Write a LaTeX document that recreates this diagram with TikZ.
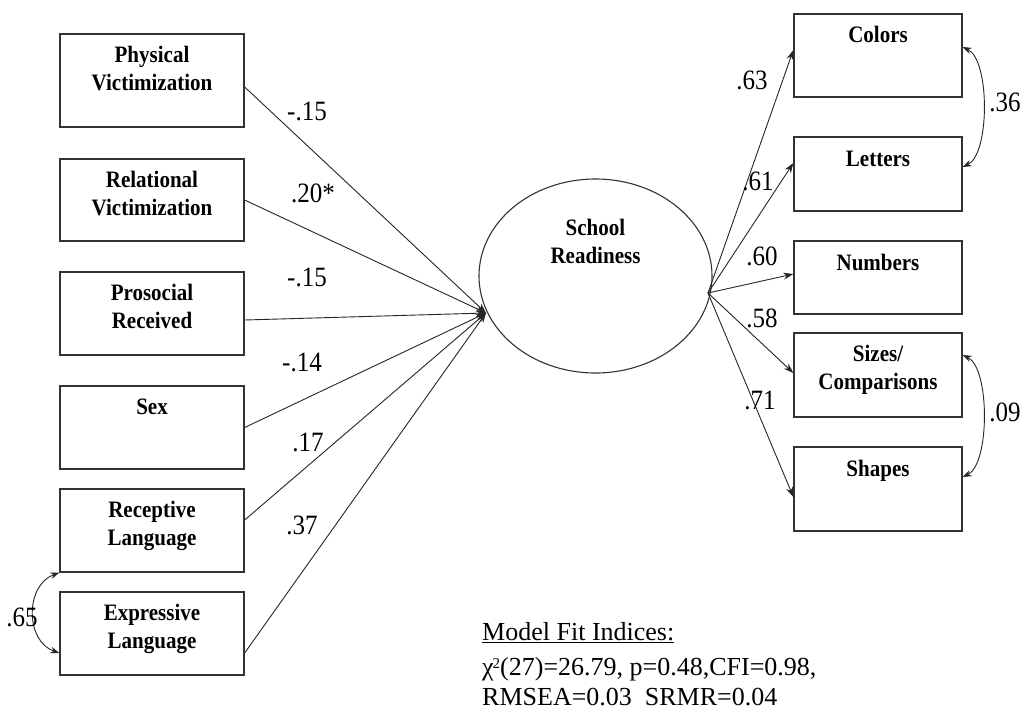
\documentclass[tikz,border=0pt]{standalone}
\usepackage{fontspec}
\setmainfont{Liberation Serif}
\usetikzlibrary{calc,arrows.meta,shapes.geometric}
\newcommand{\bxt}[1]{\scalebox{1}[1.12]{\fontsize{21}{25}\selectfont\bfseries\begin{tabular}[t]{@{}c@{}}#1\end{tabular}}}
\newcommand{\lbt}[1]{\scalebox{1}[1.12]{\fontsize{25}{30}\selectfont #1}}
\definecolor{ln}{HTML}{262626}
\definecolor{bd}{HTML}{333333}
\begin{document}
\begin{tikzpicture}[x=1pt,y=-1pt,
  varbox/.style={draw=bd,line width=1.3pt,rectangle,inner sep=0pt,fill=white},
  lvar/.style={varbox,minimum width=184pt},
  rvar/.style={varbox,minimum width=168pt},
  boxtext/.style={inner sep=0pt,anchor=base},
  coef/.style={inner sep=0pt,anchor=center},
  path/.style={draw=ln,line width=0.9pt,-{Stealth[length=10pt,width=7pt]}},
  cov/.style={draw=ln,line width=0.9pt,{Stealth[length=9pt,width=6.5pt]}-{Stealth[length=9pt,width=6.5pt]}}]
\useasboundingbox (0,0) rectangle (1026,713);
\fill[white] (0,0) rectangle (1026,713);
% left boxes
\node[lvar,minimum height=93pt] (pv) at (152,80.5) {};
\node[lvar,minimum height=82pt] (rv) at (152,200) {};
\node[lvar,minimum height=83pt] (pr) at (152,313.5) {};
\node[lvar,minimum height=83pt] (sx) at (152,427.5) {};
\node[lvar,minimum height=83pt] (rl) at (152,530.5) {};
\node[lvar,minimum height=83pt] (el) at (152,633.5) {};
\node[boxtext] (pvt) at ($(pv.north)+(0,29)$) {\bxt{Physical\\Victimization}};
\node[boxtext] (rvt) at ($(rv.north)+(0,29)$) {\bxt{Relational\\Victimization}};
\node[boxtext] (prt) at ($(pr.north)+(0,29)$) {\bxt{Prosocial\\Received}};
\node[boxtext] (sxt) at ($(sx.north)+(0,29)$) {\bxt{Sex}};
\node[boxtext] (rlt) at ($(rl.north)+(0,29)$) {\bxt{Receptive\\Language}};
\node[boxtext] (elt) at ($(el.north)+(0,29)$) {\bxt{Expressive\\Language}};
% right boxes
\node[rvar,minimum height=83pt] (co) at (878,55.5) {};
\node[rvar,minimum height=74pt] (le) at (878,174) {};
\node[rvar,minimum height=73pt] (nu) at (878,277.5) {};
\node[rvar,minimum height=84pt] (sz) at (878,375) {};
\node[rvar,minimum height=84pt] (sh) at (878,489) {};
\node[boxtext] (cot) at ($(co.north)+(0,29)$) {\bxt{Colors}};
\node[boxtext] (let) at ($(le.north)+(0,30)$) {\bxt{Letters}};
\node[boxtext] (nut) at ($(nu.north)+(0,30)$) {\bxt{Numbers}};
\node[boxtext] (szt) at ($(sz.north)+(0,29)$) {\bxt{Sizes/\\Comparisons}};
\node[boxtext] (sht) at ($(sh.north)+(0,30)$) {\bxt{Shapes}};
% latent
\node[draw=bd,line width=1.1pt,ellipse,minimum width=233pt,minimum height=194pt,inner sep=0pt] (sr) at (595.5,276) {};
\node[boxtext] (srt) at ($(sr.north)+(0,57)$) {\bxt{School\\Readiness}};
\coordinate (cv) at (486,313);
\coordinate (dv) at (708,293);
% regressions
\draw[path] ($(pv.east)+(0,6.5)$) -- (cv);
\draw[path] (rv.east) -- (cv);
\draw[path] ($(pr.east)+(0,6.5)$) -- (cv);
\draw[path] (sx.east) -- (cv);
\draw[path] ($(rl.east)+(0,-10.5)$) -- (cv);
\draw[path] ($(el.east)+(0,19.5)$) -- (cv);
% loadings
\draw[path] (dv) -- ($(co.west)+(0,-5.5)$);
\draw[path] (dv) -- ($(le.west)+(0,-11)$);
\draw[path] (dv) -- ($(nu.west)+(0,-3.5)$);
\draw[path] (dv) -- ($(sz.west)+(0,-2)$);
\draw[path] (dv) -- ($(sh.west)+(0,8)$);
% covariances
\coordinate (rla) at (rl.south west);
\coordinate (ela) at ($(el.west)+(0,19.5)$);
\draw[cov] (rla) .. controls (25,585) and (25,641) .. (ela);
\coordinate (coa) at ($(co.east)+(0,-8.5)$);
\coordinate (lea) at ($(le.east)+(0,-7)$);
\draw[cov] (coa) .. controls (990,60) and (990,154) .. (lea);
\coordinate (sza) at ($(sz.east)+(0,-20)$);
\coordinate (sha) at ($(sh.east)+(0,-12)$);
\draw[cov] (sza) .. controls (990,368) and (990,464) .. (sha);
% coefficients
\node[coef] (c1) at (307,111) {\lbt{-.15}};
\node[coef] (c2) at (313,193) {\lbt{.20*}};
\node[coef] (c3) at (307,277) {\lbt{-.15}};
\node[coef] (c4) at (302,362) {\lbt{-.14}};
\node[coef] (c5) at (308,442) {\lbt{.17}};
\node[coef] (c6) at (302,525) {\lbt{.37}};
\node[coef] (c7) at (22,617) {\lbt{.65}};
\node[coef] (d1) at (752,80) {\lbt{.63}};
\node[coef] (d2) at (758,181) {\lbt{.61}};
\node[coef] (d3) at (762,256) {\lbt{.60}};
\node[coef] (d4) at (762,318) {\lbt{.58}};
\node[coef] (d5) at (760,400) {\lbt{.71}};
\node[coef] (e1) at (1005,102) {\lbt{.36}};
\node[coef] (e2) at (1005,412) {\lbt{.09}};
% fit
\node[inner sep=0pt,anchor=base west] (f1) at (482,640) {\fontsize{26}{32}\selectfont\underline{Model Fit Indices:}};
\node[inner sep=0pt,anchor=base west] (f2) at (482,675) {\fontsize{26}{32}\selectfont χ\kern-1pt\raisebox{7pt}{\fontsize{15}{15}\selectfont 2}(27)=26.79, p=0.48,CFI=0.98,};
\node[inner sep=0pt,anchor=base west] (f3) at (482,705) {\fontsize{26}{32}\selectfont RMSEA=0.03\ \ SRMR=0.04};
\end{tikzpicture}
\end{document}
